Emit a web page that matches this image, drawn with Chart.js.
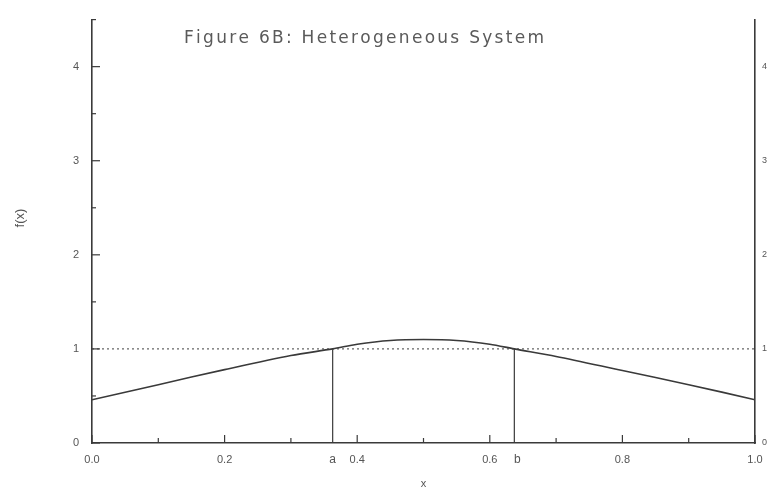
<!DOCTYPE html>
<html>
<head>
<meta charset="utf-8">
<script src="https://cdn.jsdelivr.net/npm/chart.js@4.4.1/dist/chart.umd.min.js"></script>
<style>
  html, body { margin: 0; padding: 0; background: #fff; }
  #wrap { width: 775px; height: 495px; position: relative; }
</style>
</head>
<body>
<div id="wrap"><canvas id="c" width="775" height="495"></canvas></div>
<script>
// ---- data ----
const curveX = [0.0, 0.1, 0.2, 0.3, 0.363, 0.4, 0.45, 0.5, 0.55, 0.6, 0.637, 0.7, 0.8, 0.9, 1.0];
const curveY = [0.46, 0.62, 0.78, 0.93, 1.0, 1.05, 1.09, 1.1, 1.09, 1.05, 1.0, 0.92, 0.77, 0.62, 0.46];
const refLineX = [0.0, 1.0];
const refLineY = [1.0, 1.0];
const markerNames = ['a', 'b'];
const markerX = [0.363, 0.637];
const markerY = [1.0, 1.0];
const yTickLabels = ['0', '1', '2', '3', '4'];
const xTickLabels = ['0.0', '0.2', '0.4', '0.6', '0.8', '1.0'];
const titleText = 'Figure 6B: Heterogeneous System';
const yTitle = 'f(x)';
const xTitle = 'x';

const ink = '#3a3a3a';
const fontFam = "'Liberation Sans', Arial, sans-serif";
const titleFam = "'DejaVu Sans', 'Liberation Sans', sans-serif";

const datasets = [
  { data: curveX.map((x, i) => ({ x, y: curveY[i] })), borderColor: ink, borderWidth: 1.6, pointRadius: 0, showLine: true, tension: 0.3, yAxisID: 'y' },
  { data: refLineX.map((x, i) => ({ x, y: refLineY[i] })), borderColor: '#666', borderWidth: 1.2, borderDash: [2, 3], pointRadius: 0, showLine: true, yAxisID: 'y' }
];
markerX.forEach((mx, i) => {
  datasets.push({ data: [{ x: mx, y: 0 }, { x: mx, y: markerY[i] }], borderColor: ink, borderWidth: 1.2, pointRadius: 0, showLine: true, yAxisID: 'y' });
});

function spacedText(ctx, text, x, y, targetWidth) {
  const w = ctx.measureText(text).width;
  const extra = Math.max(0, (targetWidth - w) / (text.length - 1));
  let cx = x;
  for (const ch of text) {
    ctx.fillText(ch, cx, y);
    cx += ctx.measureText(ch).width + extra;
  }
}

const extras = {
  id: 'extras',
  afterDraw(chart) {
    const ctx = chart.ctx;
    const xs = chart.scales.x, ys = chart.scales.y;
    const area = chart.chartArea;
    ctx.save();
    ctx.strokeStyle = ink;
    ctx.lineWidth = 1.2;
    // inward tick marks on left axis
    for (let v = 0; v <= 4.5001; v += 0.5) {
      const py = ys.getPixelForValue(v);
      const major = Math.abs(v - Math.round(v)) < 1e-6;
      ctx.beginPath();
      ctx.moveTo(area.left, py);
      ctx.lineTo(area.left + (major ? 8 : 4), py);
      ctx.stroke();
    }
    // inward tick marks on bottom axis
    for (let v = 0; v <= 1.0001; v += 0.1) {
      const px = xs.getPixelForValue(v);
      const major = Math.abs(v * 5 - Math.round(v * 5)) < 1e-6;
      ctx.beginPath();
      ctx.moveTo(px, area.bottom);
      ctx.lineTo(px, area.bottom - (major ? 8 : 5));
      ctx.stroke();
    }
    // marker labels a, b
    ctx.fillStyle = '#555';
    ctx.font = '12px ' + fontFam;
    ctx.textAlign = 'center';
    ctx.textBaseline = 'top';
    markerX.forEach((mx, i) => {
      ctx.fillText(markerNames[i], xs.getPixelForValue(mx) + (i === 0 ? 0 : 3), area.bottom + 11);
    });
    // y axis title (rotated)
    ctx.save();
    ctx.translate(20, 218);
    ctx.rotate(-Math.PI / 2);
    ctx.textAlign = 'center';
    ctx.textBaseline = 'middle';
    ctx.font = '13px ' + fontFam;
    ctx.fillText(yTitle, 0, 0);
    ctx.restore();
    // title
    ctx.fillStyle = '#5a5a5a';
    ctx.font = '17px ' + titleFam;
    ctx.textAlign = 'left';
    ctx.textBaseline = 'middle';
    spacedText(ctx, titleText, 184, 39, 358);
    ctx.restore();
  }
};

new Chart(document.getElementById('c'), {
  type: 'scatter',
  data: { datasets },
  options: {
    responsive: false,
    animation: false,
    events: [],
    layout: { padding: { top: 19, left: 0, right: 0, bottom: 0 } },
    plugins: { legend: { display: false }, tooltip: { enabled: false } },
    scales: {
      x: {
        type: 'linear', min: 0, max: 1,
        border: { color: ink, width: 1.6 },
        grid: { display: false, drawTicks: false },
        afterBuildTicks(s) { s.ticks = xTickLabels.map(t => ({ value: parseFloat(t) })); },
        ticks: {
          padding: 10, color: '#555', font: { size: 11, family: fontFam },
          autoSkip: false, maxRotation: 0,
          callback: (v, i) => xTickLabels[i]
        },
        title: { display: true, text: xTitle, color: '#555', font: { size: 11, family: fontFam }, padding: { top: 5 } },
        afterFit(s) { s.height = 52; }
      },
      y: {
        type: 'linear', position: 'left', min: 0, max: 4.5,
        border: { color: ink, width: 1.6 },
        grid: { display: false, drawTicks: false },
        afterBuildTicks(s) { s.ticks = yTickLabels.map(t => ({ value: parseFloat(t) })); },
        ticks: { padding: 13, color: '#555', font: { size: 11, family: fontFam }, callback: (v, i) => yTickLabels[i] },
        afterFit(s) { s.width = 92; }
      },
      y2: {
        type: 'linear', position: 'right', min: 0, max: 4.5,
        border: { color: ink, width: 1.6 },
        grid: { display: false, drawTicks: false },
        afterBuildTicks(s) { s.ticks = yTickLabels.map(t => ({ value: parseFloat(t) })); },
        ticks: { padding: 7, color: '#555', font: { size: 9, family: fontFam }, callback: (v, i) => yTickLabels[i] },
        afterFit(s) { s.width = 20; }
      }
    }
  },
  plugins: [extras]
});
</script>
</body>
</html>
